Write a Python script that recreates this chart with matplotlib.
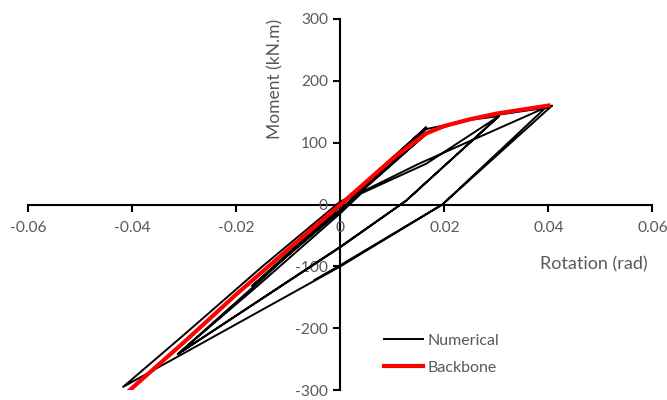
import matplotlib
matplotlib.use('Agg')
import matplotlib.pyplot as plt

# --- data ---
# numerical hysteresis response (rotation in rad, moment in kN.m), in load order
rot_num = [0.0, 0.0165, 0.001, -0.0165, -0.001, 0.017, 0.0005, -0.017, 0.0, 0.0165,
           0.020, 0.025, 0.0305, 0.0126, 0.0, -0.0313, -0.016, 0.0, 0.004, 0.0165,
           0.0305, 0.0126, 0.0, -0.0313, -0.015, 0.0, 0.017, 0.025, 0.031, 0.040,
           0.0407, 0.0196, 0.0, -0.0418, -0.030, -0.015, 0.0, 0.004, 0.0151, 0.0395,
           0.0196, 0.0, -0.005]
mom_num = [0, 125, 6, -128, -16, 118, -4, -132, -10, 122,
           128, 137, 143, 6, -69, -242, -132, -14, 18, 66,
           143, 6, -68, -242, -120, -2, 118, 138, 146, 157,
           160, 0, -100, -295, -210, -100, 5, 20, 66, 157,
           0, -98, -122]

# backbone curve
rot_bb = [-0.0405, -0.03, -0.02, -0.01, 0.0, 0.01, 0.0165, 0.02, 0.025, 0.03, 0.04]
mom_bb = [-300, -222, -145, -72, 0, 74, 115, 127, 138, 147, 160]

x_ticks = [-0.06, -0.04, -0.02, 0, 0.02, 0.04, 0.06]
x_labels = ['-0.06', '-0.04', '-0.02', '0', '0.02', '0.04', '0.06']
y_ticks = [-300, -200, -100, 0, 100, 200, 300]
y_labels = ['-300', '-200', '-100', '0', '100', '200', '300']

plt.rcParams['font.family'] = ['Lato', 'DejaVu Sans']
grey = '#595959'

fig = plt.figure(figsize=(6.67, 4.0), dpi=100)
ax = fig.add_axes([0.0427, 0.025, 0.9355, 0.9275])

ax.plot(rot_num, mom_num, color='black', lw=1.4, label='Numerical', zorder=2)
ax.plot(rot_bb, mom_bb, color='#ff0000', lw=3.0, label='Backbone', zorder=3)

ax.set_xlim(-0.06, 0.06)
ax.set_ylim(-300, 300)

# excel style axes crossing at the origin
ax.spines['left'].set_position(('data', 0))
ax.spines['bottom'].set_position(('data', 0))
ax.spines['top'].set_visible(False)
ax.spines['right'].set_visible(False)
for s in ('left', 'bottom'):
    ax.spines[s].set_linewidth(1.5)
    ax.spines[s].set_zorder(1)

ax.set_xticks(x_ticks)
ax.set_xticklabels(x_labels)
ax.set_yticks(y_ticks)
ax.set_yticklabels(y_labels)
ax.tick_params(axis='both', direction='out', length=5, width=1.5,
               labelsize=11.2, labelcolor=grey, pad=4)
ax.tick_params(axis='x', pad=7)

ax.text(-0.0125, 300, 'Moment (kN.m)', rotation=90, ha='center', va='top',
        fontsize=12.5, color=grey)
ax.text(0.0384, -97, 'Rotation (rad)', ha='left', va='center',
        fontsize=13, color=grey)

ax.legend(loc='upper left', bbox_to_anchor=(0.547, 0.19), frameon=False,
          fontsize=11.5, labelcolor=grey, handlelength=2.4, handletextpad=0.3,
          labelspacing=0.8)

fig.savefig('out.png', dpi=100)
